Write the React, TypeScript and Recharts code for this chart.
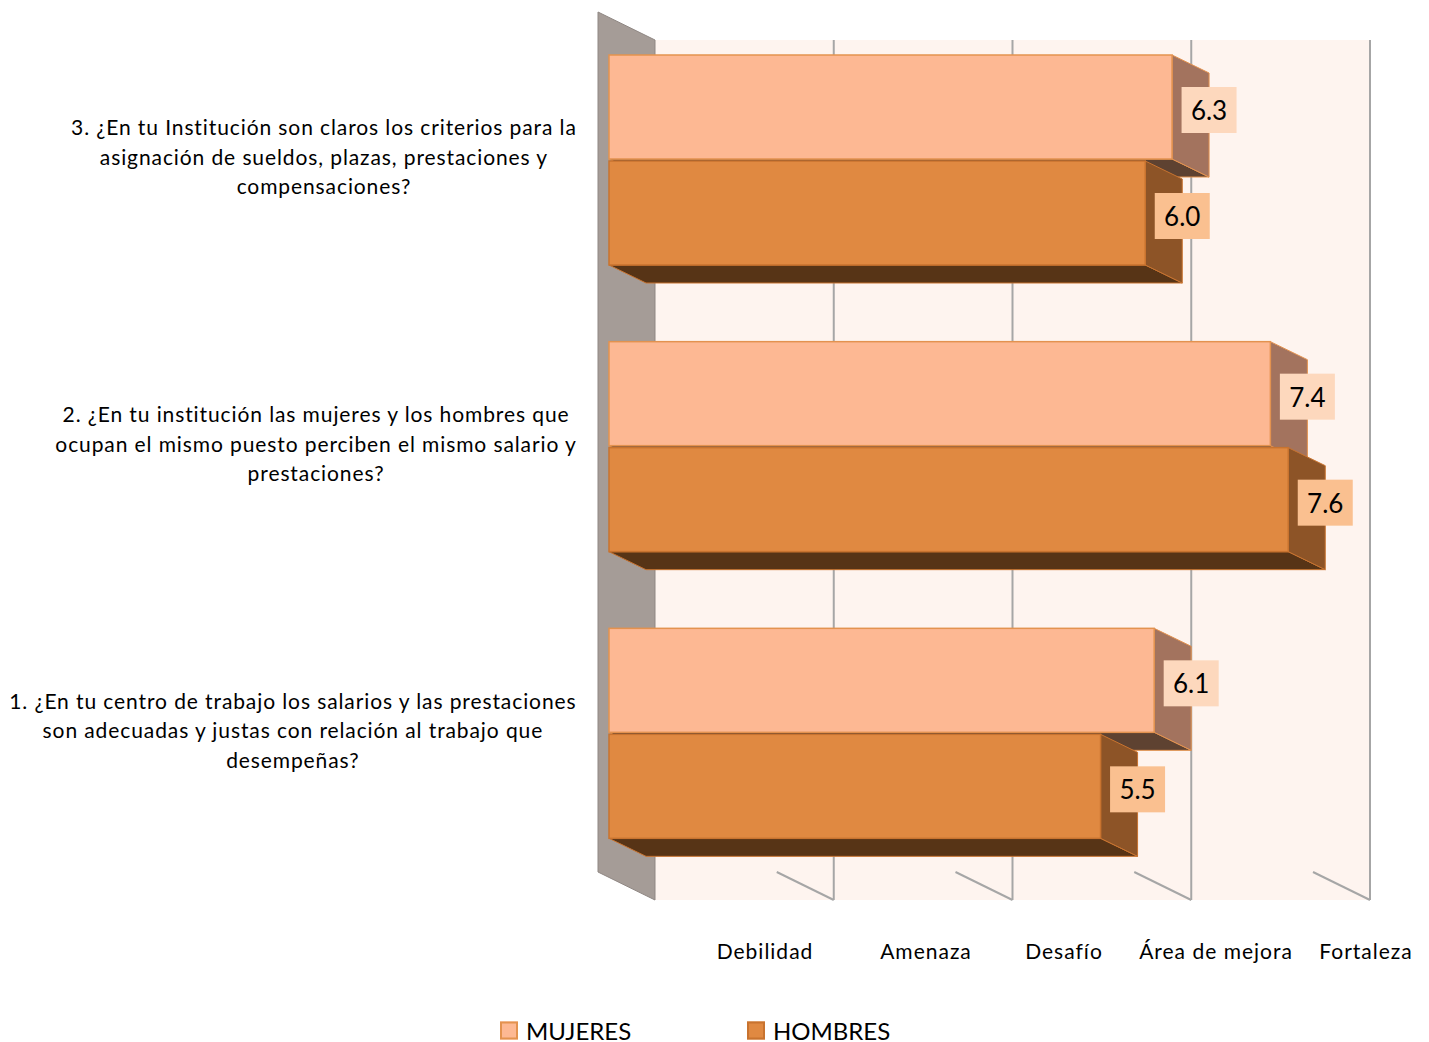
import React from "react";
import { BarChart, Bar, XAxis, YAxis, ReferenceArea, LabelList } from "recharts";

const QUESTIONS = [
  "1. ¿En tu centro de trabajo los salarios y las prestaciones\nson adecuadas y justas con relación al trabajo que\ndesempeñas?",
  "2. ¿En tu institución las mujeres y los hombres que\nocupan el mismo puesto perciben el mismo salario y\nprestaciones?",
  "3. ¿En tu Institución son claros los criterios para la\nasignación de sueldos, plazas, prestaciones y\ncompensaciones?",
];
const MUJERES = [6.1, 7.4, 6.3];
const HOMBRES = [5.5, 7.6, 6.0];
const SCALE_LABELS = ["Debilidad", "Amenaza", "Desafío", "Área de mejora", "Fortaleza"];
const GRID_VALUES = [2, 4, 6, 8];
const SERIES = ["MUJERES", "HOMBRES"];

// layout bits (not data)
const SCALE_LABEL_X = [765, 926, 1064, 1216, 1366];
const FONT = "Lato, 'Open Sans', sans-serif";
const Q_SIZE = 21;
const Q_SPACING = 0.9;
const BAR_DX = 37;
const BAR_DY = 18;
const WALL_FRONT = [-11, -5];
const WALL_BACK = [46, 23];

const COLORS = {
  MUJERES: { front: "#FDB893", side: "#A3735E", bottom: "#5E4231", edge: "#E3924F", label: "#FDD8BD" },
  HOMBRES: { front: "#E08941", side: "#8D5427", bottom: "#573416", edge: "#C8732F", label: "#FAC090" },
};

const data = QUESTIONS.map((name, i) => ({
  name,
  MUJERES: MUJERES[i],
  HOMBRES: HOMBRES[i],
}));

let ctx: CanvasRenderingContext2D | null = null;
function measure(text: string) {
  if (!ctx) ctx = document.createElement("canvas").getContext("2d");
  if (!ctx) return text.length * 10.5;
  ctx.font = `${Q_SIZE}px Lato`;
  return ctx.measureText(text).width + text.length * Q_SPACING;
}

function QuestionTick({ y, payload }: any) {
  const lines = String(payload.value).split("\n");
  const widest = Math.max(...lines.map((l) => measure(l)));
  const cx = 577 - widest / 2;
  const lh = 29.5;
  const start = y - 4 - ((lines.length - 1) / 2) * lh;
  return (
    <g>
      {lines.map((l, i) => (
        <text
          key={i}
          x={cx}
          y={start + i * lh}
          textAnchor="middle"
          dominantBaseline="central"
          fontSize={Q_SIZE}
          fontFamily={FONT}
          letterSpacing={Q_SPACING}
          fill="#000"
        >
          {l}
        </text>
      ))}
    </g>
  );
}

// back wall, back plane and gridlines of the 3D plot
function Backdrop({ x, y, width, height }: any) {
  const [fx, fy] = WALL_FRONT;
  const [bx, by] = WALL_BACK;
  const per = width / 8;
  return (
    <g>
      <rect x={x + bx} y={y + by} width={width} height={height} fill="#FEF4EF" />
      <polygon
        points={`${x + fx},${y + fy} ${x + bx},${y + by} ${x + bx},${y + height + by} ${x + fx},${y + height + fy}`}
        fill="#A59C97"
        stroke="#8F8783"
        strokeWidth={1}
      />
      {GRID_VALUES.map((v) => {
        const gx = x + bx + per * v;
        return (
          <g key={v}>
            <line x1={gx} y1={y + by} x2={gx} y2={y + height + by} stroke="#A6A6A6" strokeWidth={2} />
            <line
              x1={x + fx + per * v}
              y1={y + height + fy}
              x2={gx}
              y2={y + height + by}
              stroke="#A6A6A6"
              strokeWidth={2}
            />
          </g>
        );
      })}
    </g>
  );
}

const box3D = (key: "MUJERES" | "HOMBRES") => (props: any) => {
  const { x, y, width, height } = props;
  const c = COLORS[key];
  const r = x + width;
  const b = y + height;
  return (
    <g>
      <polygon
        points={`${x},${b} ${r},${b} ${r + BAR_DX},${b + BAR_DY} ${x + BAR_DX},${b + BAR_DY}`}
        fill={c.bottom}
        stroke={c.edge}
        strokeWidth={1}
      />
      <polygon
        points={`${r},${y} ${r + BAR_DX},${y + BAR_DY} ${r + BAR_DX},${b + BAR_DY} ${r},${b}`}
        fill={c.side}
        stroke={c.edge}
        strokeWidth={1}
      />
      <rect x={x} y={y} width={width} height={height} fill={c.front} stroke={c.edge} strokeWidth={1.5} />
    </g>
  );
};

const valueLabel = (key: "MUJERES" | "HOMBRES") => (props: any) => {
  const { x, y, width, height, value } = props;
  const cx = x + width + BAR_DX;
  const cy = y + height / 2 + 3;
  return (
    <g>
      <rect x={cx - 27.5} y={cy - 23} width={55} height={46} fill={COLORS[key].label} />
      <text
        x={cx}
        y={cy}
        textAnchor="middle"
        dominantBaseline="central"
        fontSize={26}
        fontFamily={FONT}
        fill="#000"
      >
        {Number(value).toFixed(1)}
      </text>
    </g>
  );
};

export default function App() {
  return (
    <div style={{ position: "absolute", left: 0, top: 0, width: 1429, height: 1040, background: "#fff", fontFamily: FONT }}>
      <BarChart
        width={1429}
        height={1040}
        data={data}
        layout="vertical"
        margin={{ top: 17, right: 105, bottom: 163, left: 9 }}
        barGap={2}
      >
        <XAxis type="number" domain={[0, 8]} hide />
        <YAxis
          type="category"
          dataKey="name"
          reversed
          width={600}
          axisLine={false}
          tickLine={false}
          tick={<QuestionTick />}
        />
        <ReferenceArea x1={0} x2={8} shape={<Backdrop />} ifOverflow="visible" />
        {SERIES.map((s) => (
          <Bar
            key={s}
            dataKey={s}
            barSize={104}
            shape={box3D(s as any)}
            isAnimationActive={false}
          >
            <LabelList dataKey={s} content={valueLabel(s as any)} />
          </Bar>
        ))}
      </BarChart>
      {SCALE_LABELS.map((l, i) => (
        <div
          key={l}
          style={{
            position: "absolute",
            left: SCALE_LABEL_X[i],
            top: 950,
            transform: "translate(-50%, -50%)",
            fontSize: 21,
            letterSpacing: 1,
            whiteSpace: "nowrap",
            color: "#000",
          }}
        >
          {l}
        </div>
      ))}
      <div style={{ position: "absolute", left: 500, top: 1030, transform: "translateY(-50%)", display: "flex", alignItems: "center" }}>
        {SERIES.map((s, i) => (
          <div key={s} style={{ display: "flex", alignItems: "center", width: i === 0 ? 247 : "auto" }}>
            <span
              style={{
                display: "inline-block",
                width: 14,
                height: 14,
                background: COLORS[s as "MUJERES"].front,
                border: `2px solid ${COLORS[s as "MUJERES"].edge}`,
                marginRight: 8,
              }}
            />
            <span style={{ fontSize: 24, color: "#000" }}>{s}</span>
          </div>
        ))}
      </div>
    </div>
  );
}
